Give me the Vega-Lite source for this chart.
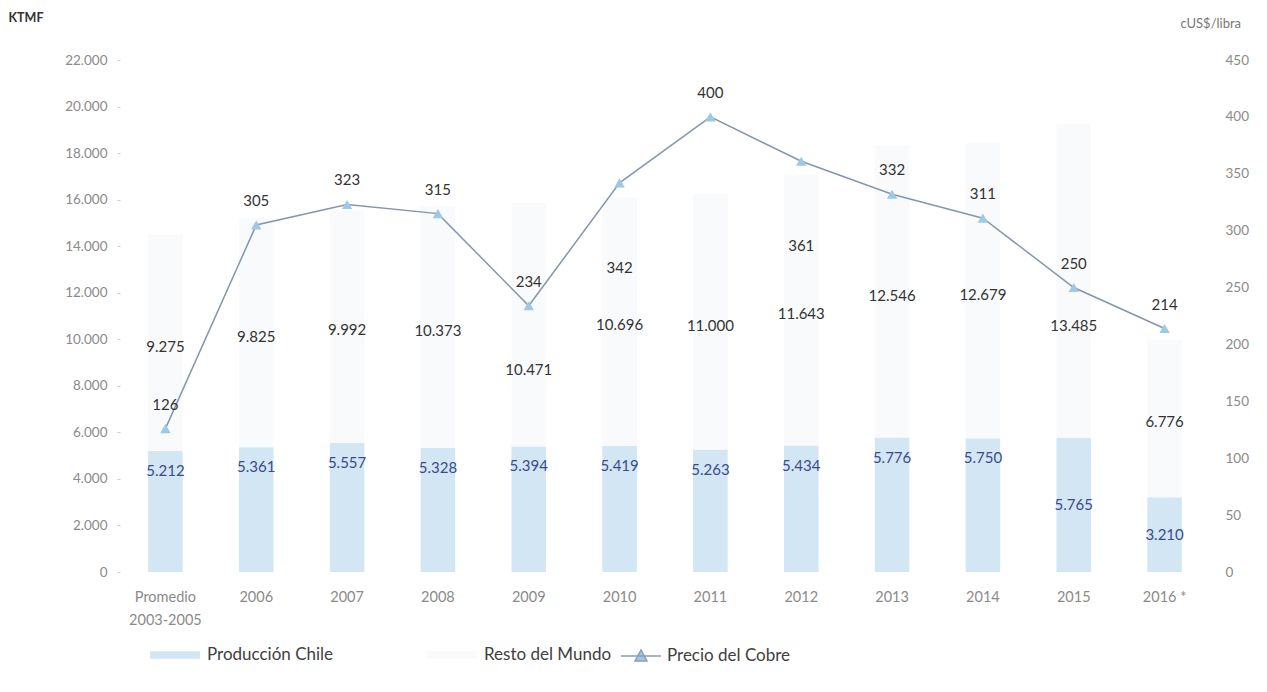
{
  "$schema": "https://vega.github.io/schema/vega-lite/v6.json",
  "width": 1090,
  "height": 512,
  "autosize": {"type": "none"},
  "padding": {"left": 120, "top": 60, "right": 57, "bottom": 120},
  "background": "white",
  "config": {
    "locale": {"number": {"decimal": ",", "thousands": ".", "grouping": [3], "currency": ["$", ""]}},
    "font": "Lato",
    "view": {"stroke": null},
    "axis": {"grid": false, "domain": false}
  },
  "datasets": {
    "prod": [
      {"cat": "Promedio 2003-2005", "serie": "Producción Chile", "valor": 5212, "orden": 1},
      {"cat": "Promedio 2003-2005", "serie": "Resto del Mundo", "valor": 9275, "orden": 2},
      {"cat": "2006", "serie": "Producción Chile", "valor": 5361, "orden": 1},
      {"cat": "2006", "serie": "Resto del Mundo", "valor": 9825, "orden": 2},
      {"cat": "2007", "serie": "Producción Chile", "valor": 5557, "orden": 1},
      {"cat": "2007", "serie": "Resto del Mundo", "valor": 9992, "orden": 2},
      {"cat": "2008", "serie": "Producción Chile", "valor": 5328, "orden": 1},
      {"cat": "2008", "serie": "Resto del Mundo", "valor": 10373, "orden": 2},
      {"cat": "2009", "serie": "Producción Chile", "valor": 5394, "orden": 1},
      {"cat": "2009", "serie": "Resto del Mundo", "valor": 10471, "orden": 2},
      {"cat": "2010", "serie": "Producción Chile", "valor": 5419, "orden": 1},
      {"cat": "2010", "serie": "Resto del Mundo", "valor": 10696, "orden": 2},
      {"cat": "2011", "serie": "Producción Chile", "valor": 5263, "orden": 1},
      {"cat": "2011", "serie": "Resto del Mundo", "valor": 11000, "orden": 2},
      {"cat": "2012", "serie": "Producción Chile", "valor": 5434, "orden": 1},
      {"cat": "2012", "serie": "Resto del Mundo", "valor": 11643, "orden": 2},
      {"cat": "2013", "serie": "Producción Chile", "valor": 5776, "orden": 1},
      {"cat": "2013", "serie": "Resto del Mundo", "valor": 12546, "orden": 2},
      {"cat": "2014", "serie": "Producción Chile", "valor": 5750, "orden": 1},
      {"cat": "2014", "serie": "Resto del Mundo", "valor": 12679, "orden": 2},
      {"cat": "2015", "serie": "Producción Chile", "valor": 5765, "orden": 1},
      {"cat": "2015", "serie": "Resto del Mundo", "valor": 13485, "orden": 2},
      {"cat": "2016 *", "serie": "Producción Chile", "valor": 3210, "orden": 1},
      {"cat": "2016 *", "serie": "Resto del Mundo", "valor": 6776, "orden": 2}
    ],
    "precio": [
      {"cat": "Promedio 2003-2005", "serie": "Precio del Cobre", "precio": 126},
      {"cat": "2006", "serie": "Precio del Cobre", "precio": 305},
      {"cat": "2007", "serie": "Precio del Cobre", "precio": 323},
      {"cat": "2008", "serie": "Precio del Cobre", "precio": 315},
      {"cat": "2009", "serie": "Precio del Cobre", "precio": 234},
      {"cat": "2010", "serie": "Precio del Cobre", "precio": 342},
      {"cat": "2011", "serie": "Precio del Cobre", "precio": 400},
      {"cat": "2012", "serie": "Precio del Cobre", "precio": 361},
      {"cat": "2013", "serie": "Precio del Cobre", "precio": 332},
      {"cat": "2014", "serie": "Precio del Cobre", "precio": 311},
      {"cat": "2015", "serie": "Precio del Cobre", "precio": 250},
      {"cat": "2016 *", "serie": "Precio del Cobre", "precio": 214}
    ]
  },
  "layer": [
    {
      "data": {"name": "prod"},
      "encoding": {
        "x": {
          "field": "cat", "type": "nominal", "sort": null,
          "scale": {"paddingInner": 0.62, "paddingOuter": 0.31},
          "axis": {
            "title": null, "labelAngle": 0, "ticks": false, "labelPadding": 25,
            "labelColor": "#8a8a8a", "labelFontSize": 14.5, "labelLineHeight": 23,
            "labelBaseline": "middle",
            "labelExpr": "datum.value == 'Promedio 2003-2005' ? ['Promedio', '2003-2005'] : datum.value"
          }
        },
        "y": {
          "field": "valor", "type": "quantitative", "stack": "zero",
          "scale": {"domain": [0, 22000], "nice": false},
          "axis": {
            "values": [0, 2000, 4000, 6000, 8000, 10000, 12000, 14000, 16000, 18000, 20000, 22000],
            "format": ",d", "labelColor": "#8a8a8a", "labelFontSize": 13.5,
            "tickSize": 3, "tickColor": "#cccccc", "labelPadding": 10,
            "title": "KTMF", "titleAngle": 0, "titleX": -112, "titleY": -43,
            "titleAlign": "left", "titleBaseline": "middle", "titleFontSize": 12.5,
            "titleFontWeight": "bold", "titleColor": "#333333"
          }
        },
        "detail": {"field": "serie"},
        "order": {"field": "orden"}
      },
      "layer": [
        {
          "mark": {"type": "bar"},
          "encoding": {
            "color": {
              "field": "serie", "type": "nominal",
              "scale": {"domain": ["Producción Chile", "Resto del Mundo"], "range": ["#d2e6f4", "#f9fafb"]},
              "legend": {
                "title": null, "orient": "none", "legendX": 30, "legendY": 570,
                "direction": "horizontal", "symbolType": "M-1,-0.15H1V0.15H-1Z",
                "symbolSize": 2500, "symbolStrokeWidth": 0, "labelFontSize": 17,
                "labelColor": "#404040", "labelOffset": 7, "columnPadding": 93,
                "labelLimit": 300
              }
            }
          }
        },
        {
          "transform": [{"filter": "datum.cat != '2009' && datum.cat != '2015'"}],
          "mark": {"type": "text", "fontSize": 15, "color": "#333333", "dy": 4},
          "encoding": {
            "y": {
              "field": "valor", "type": "quantitative", "stack": "zero", "bandPosition": 0.5,
              "scale": {"domain": [0, 22000], "nice": false},
              "axis": {
                "values": [0, 2000, 4000, 6000, 8000, 10000, 12000, 14000, 16000, 18000, 20000, 22000],
                "format": ",d", "labelColor": "#8a8a8a", "labelFontSize": 13.5,
                "tickSize": 3, "tickColor": "#cccccc", "labelPadding": 10,
                "title": "KTMF", "titleAngle": 0, "titleX": -112, "titleY": -43,
                "titleAlign": "left", "titleBaseline": "middle", "titleFontSize": 12.5,
                "titleFontWeight": "bold", "titleColor": "#333333"
              }
            },
            "text": {"condition": {"test": "datum.serie == 'Resto del Mundo'", "field": "valor", "type": "quantitative", "format": ",d"}, "value": ""}
          }
        },
        {
          "transform": [{"filter": "datum.cat == '2009' || datum.cat == '2015'"}],
          "mark": {"type": "text", "fontSize": 15, "color": "#333333", "dy": 45},
          "encoding": {
            "y": {
              "field": "valor", "type": "quantitative", "stack": "zero", "bandPosition": 0.5,
              "scale": {"domain": [0, 22000], "nice": false},
              "axis": {
                "values": [0, 2000, 4000, 6000, 8000, 10000, 12000, 14000, 16000, 18000, 20000, 22000],
                "format": ",d", "labelColor": "#8a8a8a", "labelFontSize": 13.5,
                "tickSize": 3, "tickColor": "#cccccc", "labelPadding": 10,
                "title": "KTMF", "titleAngle": 0, "titleX": -112, "titleY": -43,
                "titleAlign": "left", "titleBaseline": "middle", "titleFontSize": 12.5,
                "titleFontWeight": "bold", "titleColor": "#333333"
              }
            },
            "text": {"condition": {"test": "datum.serie == 'Resto del Mundo'", "field": "valor", "type": "quantitative", "format": ",d"}, "value": ""}
          }
        },
        {
          "transform": [{"filter": "datum.cat != '2015' && datum.cat != '2016 *'"}],
          "mark": {"type": "text", "fontSize": 15, "color": "#3a4a8c", "dy": 20},
          "encoding": {
            "text": {"condition": {"test": "datum.serie == 'Producción Chile'", "field": "valor", "type": "quantitative", "format": ",d"}, "value": ""}
          }
        },
        {
          "transform": [{"filter": "datum.cat == '2015' || datum.cat == '2016 *'"}],
          "mark": {"type": "text", "fontSize": 15, "color": "#3a4a8c", "dy": 0},
          "encoding": {
            "y": {
              "field": "valor", "type": "quantitative", "stack": "zero", "bandPosition": 0.5,
              "scale": {"domain": [0, 22000], "nice": false},
              "axis": {
                "values": [0, 2000, 4000, 6000, 8000, 10000, 12000, 14000, 16000, 18000, 20000, 22000],
                "format": ",d", "labelColor": "#8a8a8a", "labelFontSize": 13.5,
                "tickSize": 3, "tickColor": "#cccccc", "labelPadding": 10,
                "title": "KTMF", "titleAngle": 0, "titleX": -112, "titleY": -43,
                "titleAlign": "left", "titleBaseline": "middle", "titleFontSize": 12.5,
                "titleFontWeight": "bold", "titleColor": "#333333"
              }
            },
            "text": {"condition": {"test": "datum.serie == 'Producción Chile'", "field": "valor", "type": "quantitative", "format": ",d"}, "value": ""}
          }
        }
      ]
    },
    {
      "data": {"name": "precio"},
      "encoding": {
        "x": {"field": "cat", "type": "nominal", "sort": null},
        "y": {
          "field": "precio", "type": "quantitative",
          "scale": {"domain": [0, 450], "nice": false},
          "axis": {
            "orient": "right",
            "values": [0, 50, 100, 150, 200, 250, 300, 350, 400, 450],
            "labelColor": "#8a8a8a", "labelFontSize": 13.5, "tickSize": 0, "labelPadding": 15,
            "title": "cUS$/libra", "titleAngle": 0, "titleX": -30, "titleY": -37,
            "titleAlign": "left", "titleBaseline": "middle", "titleFontSize": 13,
            "titleFontWeight": "normal", "titleColor": "#777777"
          }
        }
      },
      "layer": [
        {"mark": {"type": "line", "color": "#8596ab", "strokeWidth": 1.5}},
        {
          "mark": {"type": "point", "shape": "triangle-up", "filled": true, "size": 110, "opacity": 1},
          "encoding": {
            "fill": {
              "field": "serie", "type": "nominal",
              "scale": {"domain": ["Precio del Cobre"], "range": ["#9dc8e6"]},
              "legend": {
                "title": null, "orient": "none", "legendX": 500, "legendY": 575,
                "symbolType": "M-1,0H1M-0.3,0.25L0,-0.3L0.3,0.25Z", "symbolSize": 1600,
                "symbolStrokeColor": "#8c9db2", "symbolStrokeWidth": 1.5,
                "labelFontSize": 17, "labelColor": "#404040", "labelOffset": 5, "labelLimit": 300
              }
            }
          }
        },
        {
          "transform": [{"filter": "datum.cat != '2010' && datum.cat != '2012'"}],
          "mark": {"type": "text", "fontSize": 15, "color": "#333333", "dy": -24},
          "encoding": {"text": {"field": "precio", "type": "quantitative", "format": "d"}}
        },
        {
          "transform": [{"filter": "datum.cat == '2010' || datum.cat == '2012'"}],
          "mark": {"type": "text", "fontSize": 15, "color": "#333333", "dy": 85},
          "encoding": {"text": {"field": "precio", "type": "quantitative", "format": "d"}}
        }
      ]
    }
  ],
  "resolve": {"scale": {"y": "independent", "color": "independent", "fill": "independent"}}
}
